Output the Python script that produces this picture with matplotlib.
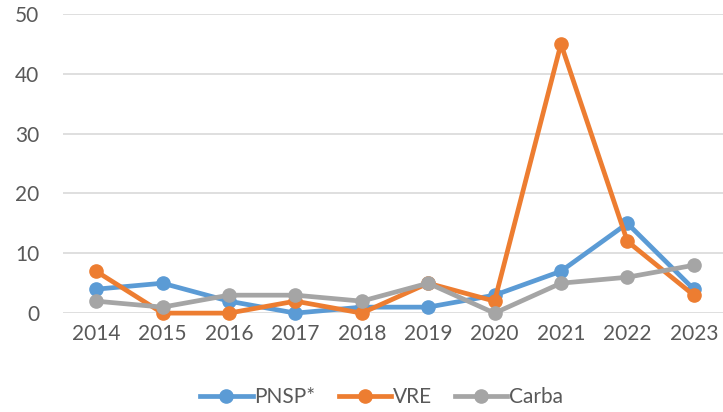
import numpy as np
import matplotlib
matplotlib.use("Agg")
import matplotlib.pyplot as plt

years = ["2014", "2015", "2016", "2017", "2018", "2019", "2020", "2021", "2022", "2023"]
pnsp = [4, 5, 2, 0, 1, 1, 3, 7, 15, 4]
vre = [7, 0, 0, 2, 0, 5, 2, 45, 12, 3]
carba = [2, 1, 3, 3, 2, 5, 0, 5, 6, 8]

plt.rcParams['font.family'] = ['Lato', 'DejaVu Sans']

fig = plt.figure(figsize=(7.23, 4.12), dpi=100)
ax = fig.add_axes([0.087, 0.240, 0.913, 0.726])

x = np.arange(len(years))
for vals, col, lab in [(pnsp, "#5B9BD5", "PNSP*"), (vre, "#ED7D31", "VRE"), (carba, "#A5A5A5", "Carba")]:
    ax.plot(x, vals, color=col, lw=3.4, marker="o", ms=9.5, label=lab, zorder=3, clip_on=False)

ax.set_xlim(-0.5, len(years) - 0.56)
ax.set_ylim(0, 50)
ax.set_yticks(range(0, 51, 10))
ax.set_xticks(x)
ax.set_xticklabels(years)
ax.grid(axis="y", color="#D9D9D9", lw=1.2)
ax.set_axisbelow(True)
for s in ax.spines.values():
    s.set_visible(False)
ax.tick_params(length=0, labelsize=15, colors="#595959", pad=8)
ax.tick_params(axis="y", pad=17)

fig.legend(loc="center", bbox_to_anchor=(0.528, 0.036), ncol=3, frameon=False,
           fontsize=15, labelcolor="#595959", handlelength=2.5, handletextpad=0.1,
           columnspacing=1.1)

fig.savefig("out.png", dpi=100)
